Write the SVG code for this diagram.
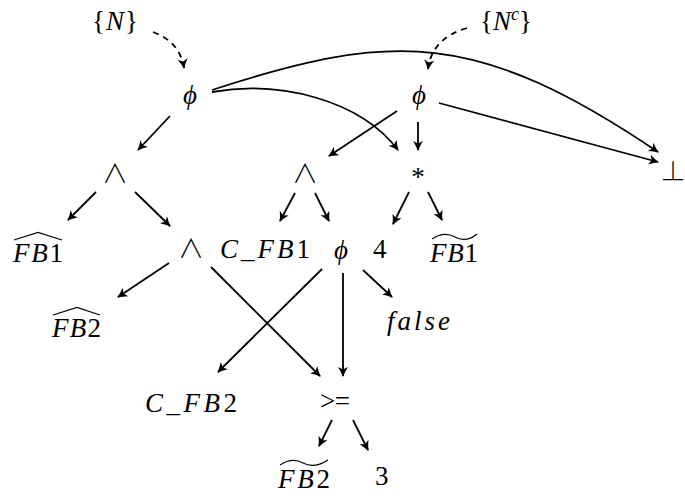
<svg xmlns="http://www.w3.org/2000/svg" width="685" height="496" viewBox="0 0 685 496">
<style>
.t{font-family:'Liberation Serif','Times New Roman',Times,serif;font-size:27px;fill:#000}
.i{font-style:italic}
.sym{font-family:'Noto Sans CJK JP','DejaVu Sans',sans-serif;font-weight:300;font-size:26px;fill:#000}
.e{fill:none;stroke:#000;stroke-width:1.8}
.d{stroke-dasharray:6 5}
.acc{fill:none;stroke:#000;stroke-width:1.2}
</style>
<defs>
<marker id="ah" markerUnits="userSpaceOnUse" markerWidth="14" markerHeight="12" viewBox="-12 -6 14 12" refX="0" refY="0" orient="auto">
<path d="M1,0 Q-4,-1.8 -9,-5 L-6.5,0 L-9,5 Q-4,1.8 1,0 Z" fill="#000"/>
</marker>
</defs>
<rect width="685" height="496" fill="#fff"/>
<g id="connectors">
<path class="e d" d="M153,32 Q180,42 184,68" marker-end="url(#ah)"/>
<path class="e d" d="M467,28 Q432,38 428,69" marker-end="url(#ah)"/>
<path class="e" d="M212,90 C393,31 477,30 658,152" marker-end="url(#ah)"/>
<path class="e" d="M212,92 C280,80 360,100 398,150" marker-end="url(#ah)"/>
<path class="e" d="M170,116 L138,150" marker-end="url(#ah)"/>
<path class="e" d="M397,111 L329,156" marker-end="url(#ah)"/>
<path class="e" d="M418,122 L418,150" marker-end="url(#ah)"/>
<path class="e" d="M439,103 L658,162" marker-end="url(#ah)"/>
<path class="e" d="M96,192 L68,220" marker-end="url(#ah)"/>
<path class="e" d="M135,192 L170,226" marker-end="url(#ah)"/>
<path class="e" d="M169,263 L118,297" marker-end="url(#ah)"/>
<path class="e" d="M211,267 L320,376" marker-end="url(#ah)"/>
<path class="e" d="M295,193 L280,221" marker-end="url(#ah)"/>
<path class="e" d="M315,193 L329,221" marker-end="url(#ah)"/>
<path class="e" d="M409,192 L393,224" marker-end="url(#ah)"/>
<path class="e" d="M428,192 L442,220" marker-end="url(#ah)"/>
<path class="e" d="M322,269 L218,372" marker-end="url(#ah)"/>
<path class="e" d="M343,273 L343,376" marker-end="url(#ah)"/>
<path class="e" d="M363,270 L392,297" marker-end="url(#ah)"/>
<path class="e" d="M332,420 L319,446" marker-end="url(#ah)"/>
<path class="e" d="M353,420 L368,450" marker-end="url(#ah)"/>
</g>
<g id="n_N"><text class="t" x="92" y="30" textLength="46" lengthAdjust="spacing">{<tspan class="i">N</tspan>}</text></g>
<g id="n_Nc"><text class="t" x="480" y="30">{<tspan class="i">N</tspan><tspan class="i" font-size="18" dy="-10">c</tspan><tspan dy="10">}</tspan></text></g>
<g id="n_phi1"><text class="t i" x="190" y="104" font-size="29" text-anchor="middle">ϕ</text></g>
<g id="n_phi2"><text class="t i" x="419" y="104" font-size="29" text-anchor="middle">ϕ</text></g>
<g id="n_bot"><text class="sym" x="673" y="181" text-anchor="middle">⊥</text></g>
<g id="n_and1"><text class="sym" x="115" y="183" text-anchor="middle">∧</text></g>
<g id="n_and2"><text class="sym" x="191" y="258" text-anchor="middle">∧</text></g>
<g id="n_and3"><text class="sym" x="305" y="183" text-anchor="middle">∧</text></g>
<g id="n_star"><text class="t" x="418" y="186" text-anchor="middle">*</text></g>
<g id="n_fb1hat"><text class="t" x="13" y="262" textLength="50" lengthAdjust="spacing"><tspan class="i">FB</tspan>1</text><path class="acc" d="M14,240 L38,232.5 L62,240"/></g>
<g id="n_fb2hat"><text class="t" x="52" y="337" textLength="49" lengthAdjust="spacing"><tspan class="i">FB</tspan>2</text><path class="acc" d="M53,315 L77,307.5 L100,315"/></g>
<g id="n_cfb1"><text class="t" x="220" y="258" textLength="90" lengthAdjust="spacing"><tspan class="i">C</tspan>_<tspan class="i">FB</tspan>1</text></g>
<g id="n_phi3"><text class="t i" x="341" y="259" font-size="29" text-anchor="middle">ϕ</text></g>
<g id="n_4"><text class="t" x="373" y="258">4</text></g>
<g id="n_fb1tilde"><text class="t" x="430" y="262" textLength="48" lengthAdjust="spacing"><tspan class="i">FB</tspan>1</text><path class="acc" d="M432,239 Q444,231 455,237 T477,234"/></g>
<g id="n_false"><text class="t i" x="387" y="330" textLength="63" lengthAdjust="spacing">false</text></g>
<g id="n_cfb2"><text class="t" x="145" y="412" textLength="92" lengthAdjust="spacing"><tspan class="i">C</tspan>_<tspan class="i">FB</tspan>2</text></g>
<g id="n_geq"><text class="t" x="320" y="410" font-size="37" letter-spacing="-0.5">&gt;=</text></g>
<g id="n_fb2tilde"><text class="t" x="278" y="488" textLength="52" lengthAdjust="spacing"><tspan class="i">FB</tspan>2</text><path class="acc" d="M280,465 Q292,457 303,463 T328,460"/></g>
<g id="n_3"><text class="t" x="375" y="485">3</text></g>
</svg>
